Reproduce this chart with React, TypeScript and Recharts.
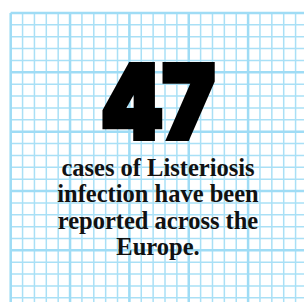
import React from "react"
import { ComposedChart, XAxis, YAxis, ReferenceLine } from "recharts"

// graph paper cells (1 unit = one small square)
const minorTicks = [0, 1, 2, 3, 4, 5, 6, 7, 8, 9, 10, 11, 12, 13, 14, 15, 16, 17, 18, 19, 20, 21, 22, 23, 24]
const majorTicks = [0, 5, 10, 15, 20]
const colsShown = 24.71
const rowsShown = 24.35

const headline = "47"
const captionLines = ["cases of Listeriosis", "infection have been", "reported across the", "Europe."]

const data = [{ x: 0, y: 0 }]

const gridColor = "#a9e0f6"

export default function App() {
  return (
    <div style={{ position: "absolute", left: 0, top: 0, width: 304, height: 302, background: "#fff" }}>
      <ComposedChart width={304} height={302} data={data} margin={{ top: 13, right: 0, left: 10.7, bottom: 0 }}>
        <XAxis dataKey="x" type="number" domain={[0, colsShown]} ticks={minorTicks} hide allowDataOverflow />
        <YAxis dataKey="y" type="number" domain={[0, rowsShown]} ticks={minorTicks} reversed hide allowDataOverflow />
        {minorTicks.map((t) => (
          <ReferenceLine key={"mx" + t} x={t} stroke={gridColor} strokeWidth={1.5} />
        ))}
        {minorTicks.map((t) => (
          <ReferenceLine key={"my" + t} y={t} stroke={gridColor} strokeWidth={1.5} />
        ))}
        {majorTicks.map((t) => (
          <ReferenceLine key={"vx" + t} x={t} stroke="#9fdcf5" strokeWidth={2.5} />
        ))}
        {majorTicks.map((t) => (
          <ReferenceLine key={"hy" + t} y={t} stroke="#9fdcf5" strokeWidth={2.5} />
        ))}
      </ComposedChart>
      {/* text sits above the paper grid */}
      <svg width={304} height={302} style={{ position: "absolute", left: 0, top: 0 }}>
        <text
          x={158}
          y={138}
          textAnchor="middle"
          transform="translate(158 0) scale(0.87 1) translate(-158 0)"
          fontFamily="Inter"
          fontWeight={900}
          fontSize={100}
          fill="#000"
          stroke="#000"
          strokeWidth={6}
          strokeLinejoin="miter"
        >
          {headline}
        </text>
        {captionLines.map((line, i) => (
          <text
            key={line}
            x={158}
            y={176 + i * 26.4}
            textAnchor="middle"
            fontFamily="Liberation Serif"
            fontWeight="bold"
            fontSize={24.5}
            fill="#111"
          >
            {line}
          </text>
        ))}
      </svg>
    </div>
  )
}
